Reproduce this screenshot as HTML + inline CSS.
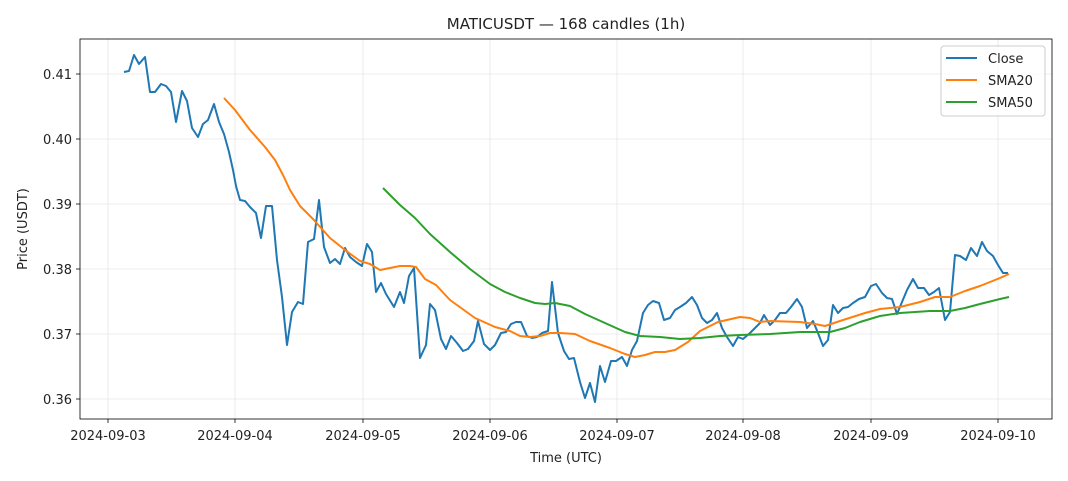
<!DOCTYPE html>
<html><head><meta charset="utf-8"><style>body{margin:0;background:#fff}svg{display:block;font-family:"DejaVu Sans","Liberation Sans",sans-serif}</style></head><body>
<svg width="1068" height="481" viewBox="0 0 1068 481">
<rect width="1068" height="481" fill="#fff"/>
<g stroke="#e6e6e6" stroke-width="0.8">
<line x1="108" y1="39" x2="108" y2="419"/><line x1="235" y1="39" x2="235" y2="419"/><line x1="363" y1="39" x2="363" y2="419"/><line x1="490" y1="39" x2="490" y2="419"/><line x1="617" y1="39" x2="617" y2="419"/><line x1="743" y1="39" x2="743" y2="419"/><line x1="871" y1="39" x2="871" y2="419"/><line x1="998" y1="39" x2="998" y2="419"/>
<line x1="80" y1="74" x2="1052" y2="74"/><line x1="80" y1="139" x2="1052" y2="139"/><line x1="80" y1="204" x2="1052" y2="204"/><line x1="80" y1="269" x2="1052" y2="269"/><line x1="80" y1="334" x2="1052" y2="334"/><line x1="80" y1="399" x2="1052" y2="399"/>
</g>
<g fill="none" stroke-width="2" stroke-linejoin="round">
<polyline stroke="#1f77b4" points="124,72 129,71 134,55 139,64 145,57 150,92 155,92 161,84 166,86 171,92 176,122 182,91 187,101 192,128 198,137 203,124 208,120 214,104 219,122 224,134 229,152 233,170 236,186 240,200 245,201 250,207 256,213 261,238 266,206 272,206 277,260 282,297 287,345 292,312 298,302 303,304 308,242 314,239 319,200 324,247 330,263 335,259 340,264 345,248 350,257 356,262 362,266 367,244 372,252 376,292 381,283 386,294 394,307 400,292 404,303 409,276 414,268 420,358 426,345 430,304 435,310 441,339 446,349 451,336 457,343 463,351 468,349 474,341 478,321 484,344 490,350 495,345 501,333 506,332 511,324 516,322 521,322 527,336 532,338 537,337 542,333 548,331 552,282 558,333 564,351 569,359 574,358 580,382 585,398 590,383 595,402 600,366 605,382 611,361 616,361 622,357 627,366 632,350 637,341 643,313 648,305 653,301 659,303 664,320 670,318 675,310 680,307 686,303 692,297 697,305 702,318 707,323 712,320 717,313 722,328 727,337 733,346 738,337 743,339 750,333 755,328 760,323 764,315 770,325 775,320 780,313 786,313 791,307 797,299 802,307 807,328 813,321 818,333 823,346 828,340 833,305 838,313 843,308 848,307 853,303 859,299 865,297 871,286 876,284 882,293 887,298 892,299 897,314 902,302 907,290 913,279 918,288 924,288 929,295 934,292 939,288 945,320 950,312 955,255 960,256 966,260 971,248 977,256 982,242 987,251 993,256 998,265 1003,273 1008,273"/>
<polyline stroke="#ff7f0e" points="224,98 235,110 250,130 265,147 275,160 283,175 290,190 300,206 313,219 330,238 345,250 360,261 370,264 380,270 390,268 400,266 410,266 416,267 425,279 436,285 450,300 475,318 495,327 510,331 520,336 530,337 540,336 550,333 560,333 575,334 590,341 610,348 625,354 635,357 645,355 655,352 665,352 675,350 688,342 700,331 718,322 740,317 750,318 760,322 770,321 800,322 815,324 825,326 840,321 865,313 880,309 900,307 920,302 935,297 950,297 965,291 980,286 1000,278 1009,274"/>
<polyline stroke="#2ca02c" points="383,188 400,205 415,218 430,234 450,252 470,269 490,284 505,292 520,298 535,303 545,304 555,303 570,306 585,314 605,323 625,332 640,336 660,337 680,339 700,338 720,336 740,335 770,334 800,332 830,332 845,328 860,322 880,316 900,313 930,311 950,311 965,308 980,304 1000,299 1009,297"/>
</g>
<rect x="80" y="39" width="972" height="380" fill="none" stroke="#000" stroke-width="0.8"/>
<g stroke="#000" stroke-width="0.8">
<line x1="108" y1="419" x2="108" y2="423"/><line x1="235" y1="419" x2="235" y2="423"/><line x1="363" y1="419" x2="363" y2="423"/><line x1="490" y1="419" x2="490" y2="423"/><line x1="617" y1="419" x2="617" y2="423"/><line x1="743" y1="419" x2="743" y2="423"/><line x1="871" y1="419" x2="871" y2="423"/><line x1="998" y1="419" x2="998" y2="423"/>
<line x1="76" y1="74" x2="80" y2="74"/><line x1="76" y1="139" x2="80" y2="139"/><line x1="76" y1="204" x2="80" y2="204"/><line x1="76" y1="269" x2="80" y2="269"/><line x1="76" y1="334" x2="80" y2="334"/><line x1="76" y1="399" x2="80" y2="399"/>
</g>
<g font-size="13" fill="#222" text-anchor="middle">
<text x="108" y="440">2024-09-03</text><text x="235" y="440">2024-09-04</text><text x="363" y="440">2024-09-05</text><text x="490" y="440">2024-09-06</text><text x="617" y="440">2024-09-07</text><text x="743" y="440">2024-09-08</text><text x="871" y="440">2024-09-09</text><text x="998" y="440">2024-09-10</text>
</g>
<g font-size="13" fill="#222" text-anchor="end">
<text x="72" y="79">0.41</text><text x="72" y="144">0.40</text><text x="72" y="209">0.39</text><text x="72" y="274">0.38</text><text x="72" y="339">0.37</text><text x="72" y="404">0.36</text>
</g>
<text x="566" y="462" font-size="13" text-anchor="middle" fill="#222">Time (UTC)</text>
<text transform="translate(27,229) rotate(-90)" font-size="13" text-anchor="middle" fill="#222">Price (USDT)</text>
<text x="566" y="29" font-size="15" text-anchor="middle" fill="#222">MATICUSDT — 168 candles (1h)</text>
<rect x="941" y="46" width="104" height="70" rx="3" fill="#fff" fill-opacity="0.8" stroke="#ccc"/>
<line x1="946" y1="58" x2="977" y2="58" stroke="#1f77b4" stroke-width="2"/>
<line x1="946" y1="80" x2="977" y2="80" stroke="#ff7f0e" stroke-width="2"/>
<line x1="946" y1="102" x2="977" y2="102" stroke="#2ca02c" stroke-width="2"/>
<g font-size="13" fill="#222"><text x="988" y="63">Close</text><text x="988" y="85">SMA20</text><text x="988" y="107">SMA50</text></g>
</svg>
</body></html>
